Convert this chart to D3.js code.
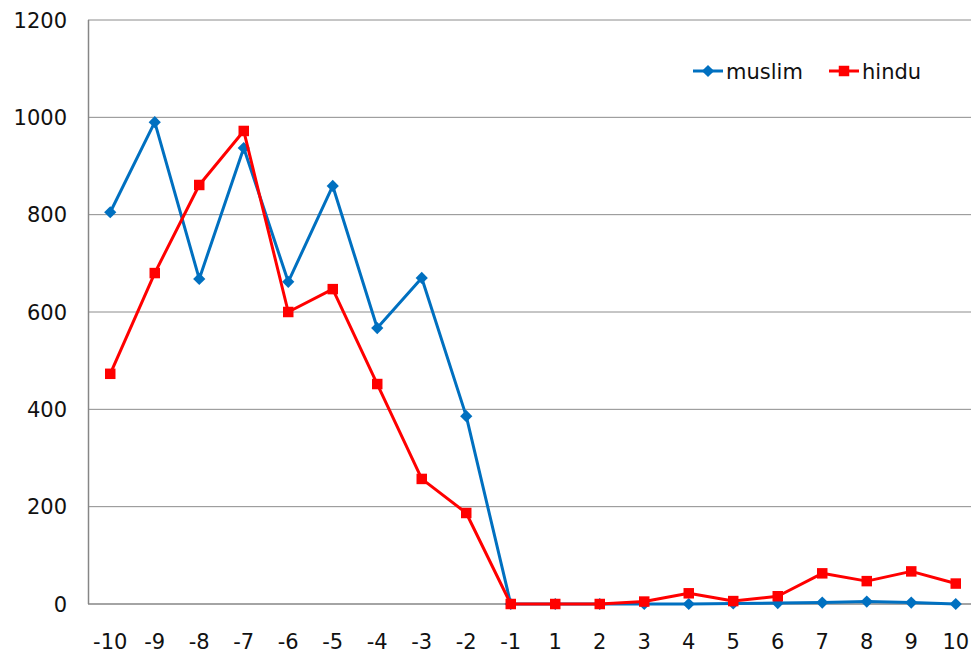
<!DOCTYPE html>
<html>
<head>
<meta charset="utf-8">
<script src="https://cdn.jsdelivr.net/npm/d3@7"></script>
<style>
  body { margin: 0; background: #fff; }
  svg text { font-family: "DejaVu Sans", Verdana, sans-serif; fill: #111; }
</style>
</head>
<body>
<div id="chart"></div>
<script>
// categorie asse x
const categories = ["-10", "-9", "-8", "-7", "-6", "-5", "-4", "-3", "-2", "-1",
                    "1", "2", "3", "4", "5", "6", "7", "8", "9", "10"];
// valori delle due serie
const muslim = [805, 990, 668, 937, 662, 859, 567, 670, 386, 0,
                0, 0, 0, 0, 1, 2, 3, 5, 3, 0];
const hindu = [473, 680, 861, 972, 600, 647, 452, 257, 187, 0,
               0, 0, 5, 22, 6, 16, 63, 47, 67, 42];
const yTicks = [0, 200, 400, 600, 800, 1000, 1200];

const series = [
    { name: "muslim", values: muslim, color: "#0070C0", marker: "diamond" },
    { name: "hindu", values: hindu, color: "#FF0000", marker: "square" }
];

const W = 971, H = 657;
const plotLeft = 88, plotRight = 978, plotTop = 20, plotBottom = 604;

const svg = d3.select("#chart").append("svg")
    .attr("width", W).attr("height", H);

// scale
const x = d3.scaleBand().domain(categories).range([plotLeft, plotRight]);
const y = d3.scaleLinear().domain([0, 1200]).range([plotBottom, plotTop]);
const cx = d => x(d) + x.bandwidth() / 2;

// griglia orizzontale
svg.append("g").selectAll("line")
    .data(yTicks.filter(t => t > 0))
    .join("line")
    .attr("x1", plotLeft).attr("x2", plotRight)
    .attr("y1", d => y(d)).attr("y2", d => y(d))
    .attr("stroke", "#8c8c8c").attr("stroke-width", 1);

// assi
svg.append("line").attr("x1", plotLeft + 0.5).attr("x2", plotLeft + 0.5)
    .attr("y1", plotTop).attr("y2", plotBottom).attr("stroke", "#868686").attr("stroke-width", 1.5);
svg.append("line").attr("x1", plotLeft).attr("x2", plotRight)
    .attr("y1", plotBottom).attr("y2", plotBottom).attr("stroke", "#868686").attr("stroke-width", 1.5);

// etichette asse y
svg.append("g").selectAll("text")
    .data(yTicks)
    .join("text")
    .attr("x", 67).attr("y", d => y(d) + 7.5)
    .attr("text-anchor", "end")
    .attr("font-size", 21)
    .text(d => d);

// etichette asse x
svg.append("g").selectAll("text")
    .data(categories)
    .join("text")
    .attr("x", d => cx(d)).attr("y", 649)
    .attr("text-anchor", "middle")
    .attr("font-size", 21)
    .text(d => d);

const line = d3.line()
    .x((d, i) => cx(categories[i]))
    .y(d => y(d));

const diamond = d3.symbol().type(d3.symbolDiamond2).size(95);
const square = d3.symbol().type(d3.symbolSquare).size(110);

series.forEach(s => {
    svg.append("path")
        .datum(s.values)
        .attr("fill", "none")
        .attr("stroke", s.color)
        .attr("stroke-width", 3)
        .attr("stroke-linejoin", "round")
        .attr("d", line);

    svg.append("g").selectAll("path")
        .data(s.values)
        .join("path")
        .attr("transform", (d, i) => `translate(${cx(categories[i])},${y(d)})`)
        .attr("d", s.marker === "diamond" ? diamond : square)
        .attr("fill", s.color);
});

// legenda
const legendX = [693, 829];
series.forEach((s, i) => {
    const g = svg.append("g").attr("transform", `translate(${legendX[i]},71)`);
    g.append("line").attr("x1", 0).attr("x2", 30)
        .attr("stroke", s.color).attr("stroke-width", 3);
    g.append("path").attr("transform", "translate(15,0)")
        .attr("d", s.marker === "diamond" ? diamond : square)
        .attr("fill", s.color);
    g.append("text").attr("x", 33).attr("y", 7.5)
        .attr("font-size", 21)
        .text(s.name);
});
</script>
</body>
</html>
